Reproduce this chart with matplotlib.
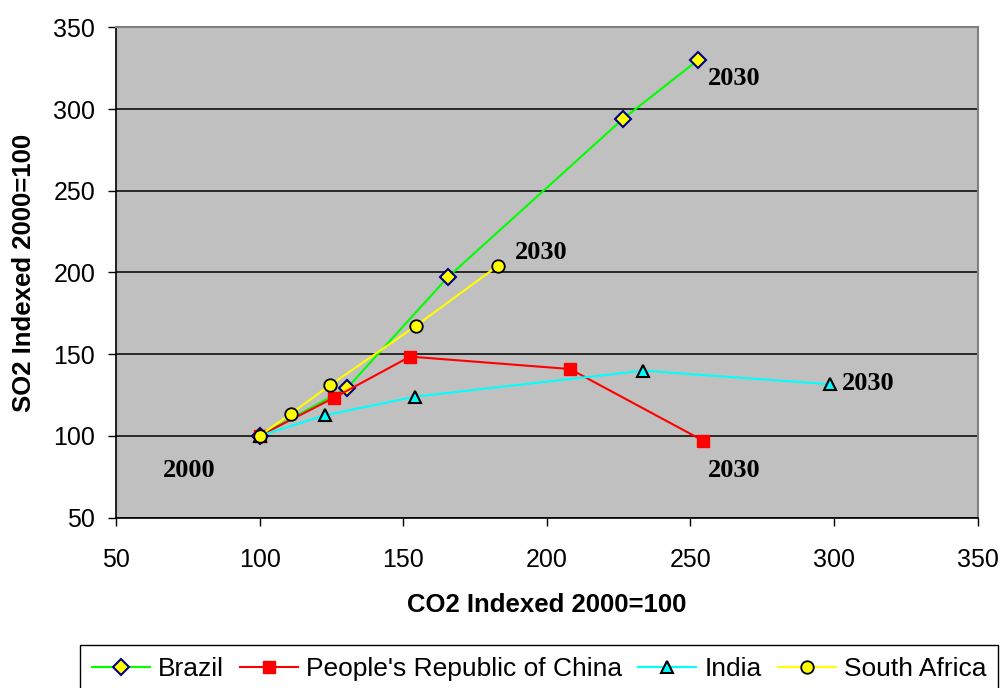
import matplotlib.pyplot as plt

plt.rcParams['font.family'] = ['Liberation Sans', 'DejaVu Sans']

# data (indexed, 2000 = 100)
brazil_co2 = [100, 130.5, 165.6, 226.5, 252.7]
brazil_so2 = [100, 129.3, 197.2, 294.0, 330.1]

china_co2 = [100, 125.9, 152.4, 208.1, 254.5]
china_so2 = [100, 123.3, 148.5, 140.9, 97.0]

india_co2 = [100, 122.8, 154.2, 233.6, 298.6]
india_so2 = [100, 112.6, 124.0, 139.9, 131.6]

safrica_co2 = [100, 110.9, 124.5, 154.5, 182.9]
safrica_so2 = [100, 113.6, 130.9, 167.4, 204.0]

# year labels (text, x, y)
year_labels = [
    ('2000', 75.4, 80.1),
    ('2030', 265.4, 320.6),
    ('2030', 198.2, 213.5),
    ('2030', 311.9, 133.6),
    ('2030', 265.2, 80.3),
]

x_ticks = [50, 100, 150, 200, 250, 300, 350]
y_ticks = [50, 100, 150, 200, 250, 300, 350]

fig = plt.figure(figsize=(10.01, 6.88), dpi=100)
ax = fig.add_axes([116 / 1001, 1 - 517.5 / 688, 861.5 / 1001, 490 / 688])
ax.set_facecolor('#C0C0C0')

ax.plot(brazil_co2, brazil_so2, color='#00FF00', lw=1.5, marker='D', ms=8,
        mfc='#FFFF00', mec='#000080', mew=1.5, label='Brazil')
ax.plot(china_co2, china_so2, color='#FF0000', lw=1.5, marker='s', ms=8.5,
        mfc='#FF0000', mec='#FF0000', label="People's Republic of China")
ax.plot(india_co2, india_so2, color='#00FFFF', lw=1.5, marker='^', ms=9,
        mfc='#00FFFF', mec='black', mew=1.5, label='India')
ax.plot(safrica_co2, safrica_so2, color='#FFFF00', lw=1.5, marker='o', ms=9,
        mfc='#FFFF00', mec='black', mew=1.3, label='South Africa')

for txt, x, y in year_labels:
    ax.text(x, y, txt, family=['Liberation Serif', 'DejaVu Serif'], weight='bold',
            fontsize=19, ha='center', va='center_baseline')

ax.set_xlim(50, 350)
ax.set_ylim(50, 350)
ax.set_xticks(x_ticks)
ax.set_yticks(y_ticks)
ax.yaxis.grid(True, color='black', lw=1.1)
ax.set_axisbelow(True)
ax.tick_params(axis='both', labelsize=18, direction='out', length=6, width=1, color='black')
ax.tick_params(axis='x', pad=16)
ax.tick_params(axis='y', pad=9)

for side in ['left', 'bottom']:
    ax.spines[side].set_color('black')
    ax.spines[side].set_linewidth(1.2)
for side in ['top', 'right']:
    ax.spines[side].set_color('#808080')
    ax.spines[side].set_linewidth(1.5)

ax.set_xlabel('CO2 Indexed 2000=100', fontsize=18.5, weight='bold', labelpad=15)
ax.set_ylabel('SO2 Indexed 2000=100', fontsize=18.5, weight='bold', labelpad=12)

leg = fig.legend(loc='upper left', bbox_to_anchor=(80 / 1001, 0, 918 / 1001, 1 - 645 / 688),
                 mode='expand', ncol=4, fontsize=19, numpoints=1, frameon=True,
                 fancybox=False, edgecolor='black', framealpha=1, borderaxespad=0,
                 handlelength=2.2, handletextpad=0.3, columnspacing=0.8, borderpad=0.45)
leg.get_frame().set_linewidth(1.0)

plt.savefig('out.png', dpi=100)
